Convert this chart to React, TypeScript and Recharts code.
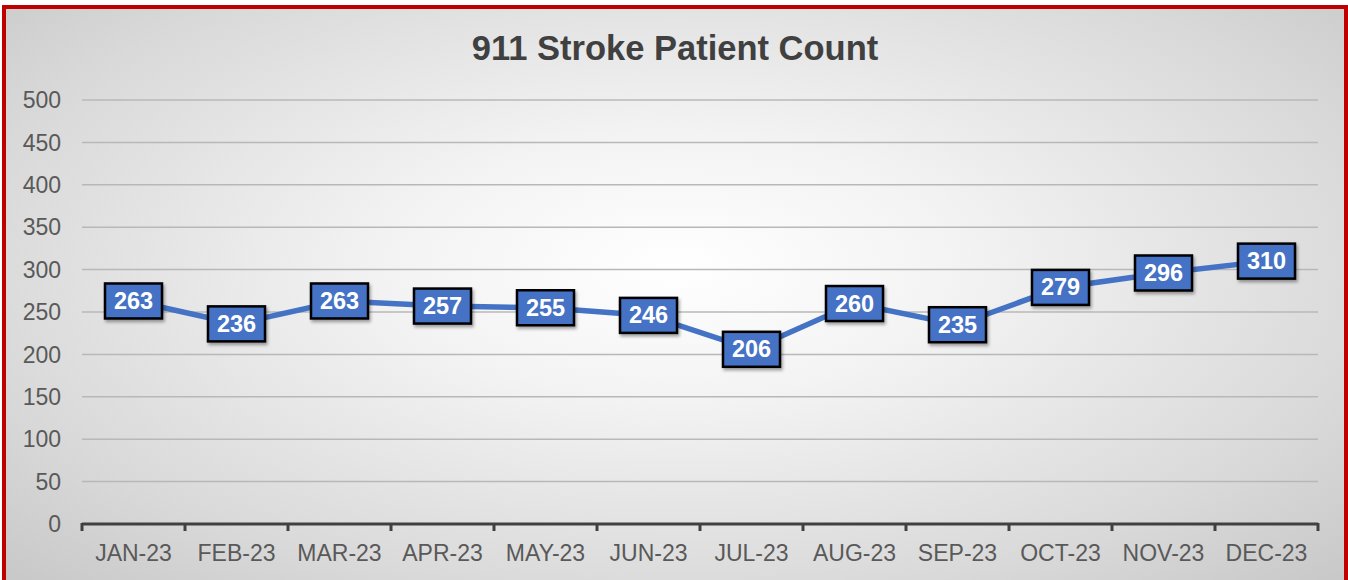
import React from "react";
import { LineChart, Line, XAxis, YAxis, CartesianGrid, LabelList } from "recharts";

const months = ["JAN-23", "FEB-23", "MAR-23", "APR-23", "MAY-23", "JUN-23", "JUL-23", "AUG-23", "SEP-23", "OCT-23", "NOV-23", "DEC-23"];
const counts = [263, 236, 263, 257, 255, 246, 206, 260, 235, 279, 296, 310];
const yTicks = [0, 50, 100, 150, 200, 250, 300, 350, 400, 450, 500];
const title = "911 Stroke Patient Count";

const data = months.map((m, i) => ({ month: m, count: counts[i] }));

const W = 1348;
const H = 580;
const M = { top: 100, right: 30, left: 22, bottom: 16 };
const Y_W = 60;
const PLOT_W = W - M.left - Y_W - M.right;
const HALF = PLOT_W / months.length / 2;
const FONT = "'Liberation Sans', Arial, sans-serif";

const XTick = (props: any) => {
  const { x, y, payload, index } = props;
  const last = index === months.length - 1;
  return (
    <g>
      <line x1={x - HALF} x2={x - HALF} y1={y - 1} y2={y + 7} stroke="#404040" strokeWidth={3} />
      {last && <line x1={x + HALF} x2={x + HALF} y1={y - 1} y2={y + 7} stroke="#404040" strokeWidth={3} />}
      <text x={x} y={y + 37} textAnchor="middle" fontSize={23} fill="#595959" fontFamily={FONT}>
        {payload.value}
      </text>
    </g>
  );
};

const BoxLabel = (props: any) => {
  const { x, y, value } = props;
  const w = 57;
  const h = 35;
  return (
    <g>
      <rect x={x - w / 2} y={y - h / 2} width={w} height={h} fill="#4472C4" stroke="#000" strokeWidth={2.5} filter="url(#shadow)" />
      <text x={x} y={y + 8} textAnchor="middle" fontSize={23.5} fontWeight="bold" fill="#fff" fontFamily={FONT}>
        {value}
      </text>
    </g>
  );
};

export default function App() {
  return (
    <div style={{ position: "absolute", left: 0, top: 0, width: W, height: H, background: "#fff", overflow: "hidden" }}>
      <div
        style={{
          position: "absolute",
          left: 2,
          top: 5,
          width: W - 2,
          height: H,
          boxSizing: "border-box",
          border: "4px solid #C00000",
          background: "radial-gradient(ellipse at 50% 45%, #ffffff 0%, #f3f3f3 30%, #d9d9d9 75%, #c8c8c8 100%)",
        }}
      />
      <div style={{ position: "absolute", left: 0, top: 0 }}>
        <LineChart width={W} height={H} data={data} margin={M}>
          <defs>
            <filter id="shadow" x="-20%" y="-20%" width="150%" height="160%">
              <feDropShadow dx={1.5} dy={2.5} stdDeviation={1.5} floodColor="#000" floodOpacity={0.35} />
            </filter>
          </defs>
          <text x={W / 2 + 1} y={60} textAnchor="middle" fontSize={34.5} fontWeight="bold" fill="#404040" fontFamily={FONT}>
            {title}
          </text>
          <CartesianGrid vertical={false} stroke="#b8b8b8" strokeWidth={1.5} />
          <XAxis
            dataKey="month"
            padding={{ left: HALF, right: HALF }}
            axisLine={{ stroke: "#404040", strokeWidth: 3 }}
            tickLine={false}
            tickSize={0}
            tickMargin={0}
            tick={<XTick />}
            interval={0}
            height={40}
          />
          <YAxis
            domain={[0, 500]}
            ticks={yTicks}
            axisLine={false}
            tickLine={false}
            tickSize={0}
            tickMargin={21}
            width={Y_W}
            tick={{ fontSize: 23, fill: "#595959", fontFamily: FONT }}
          />
          <Line type="linear" dataKey="count" stroke="#4472C4" strokeWidth={5.5} dot={false} isAnimationActive={false}>
            <LabelList dataKey="count" content={<BoxLabel />} />
          </Line>
        </LineChart>
      </div>
    </div>
  );
}
